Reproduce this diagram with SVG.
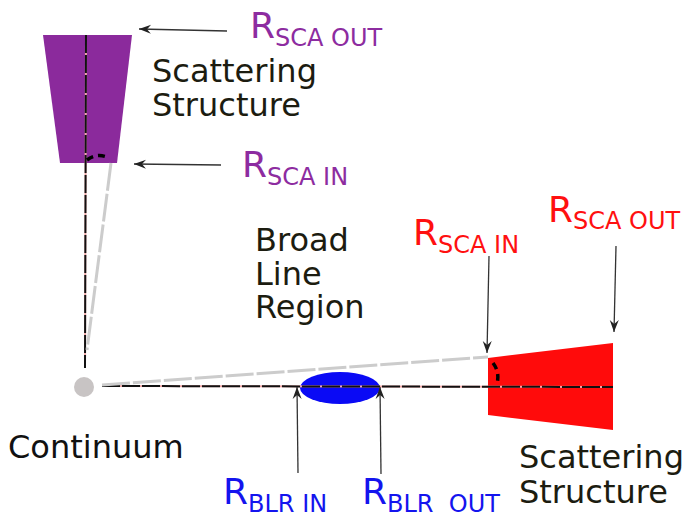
<svg xmlns="http://www.w3.org/2000/svg" width="686" height="512" viewBox="0 0 686 512">
  <defs>
    <marker id="arr" viewBox="-13 -5 14 10" refX="0" refY="0" markerWidth="14" markerHeight="10" markerUnits="userSpaceOnUse" orient="auto">
      <path d="M0,0 L-12,-4.5 L-8,0 L-12,4.5 Z" fill="#222"/>
    </marker>
  </defs>
  <style>
    .t { font-family: "DejaVu Sans", "Liberation Sans", sans-serif; font-size: 32px; fill: #1c1c10; }
    .r { font-family: "DejaVu Sans", "Liberation Sans", sans-serif; font-size: 36px; }
    .sub { font-size: 24px; }
    .purple { fill: #8d2ca0; }
    .red { fill: #ff1010; }
    .blue { fill: #1414ee; }
    .axisbg { stroke: #f0a8a8; stroke-width: 2; fill: none; }
    .axis { stroke: #111; stroke-width: 2; stroke-dasharray: 18 2; fill: none; }
    .ray { stroke: #cccccc; stroke-width: 3; stroke-dasharray: 28 3; fill: none; }
    .angle { stroke: #000; stroke-width: 3.5; stroke-dasharray: 7 5; fill: none; }
    .ptr { stroke: #333; stroke-width: 1.3; fill: none; marker-end: url(#arr); }
  </style>

  <g id="scatter-top">
    <polygon points="43,35 132,35 117,163 60,163" fill="#8b2a9c"/>
  </g>

  <g id="scatter-right">
    <polygon points="488,358 613,343 613,430 488,415" fill="#ff0b0b"/>
  </g>

  <g id="blr">
    <ellipse cx="340" cy="388" rx="40" ry="16" fill="#0a0af5"/>
  </g>

  <g id="continuum">
    <circle cx="84" cy="387" r="10" fill="#c8c4c4"/>
  </g>

  <g id="connectors">
    <line class="axisbg" x1="86" y1="35" x2="85" y2="368"/>
    <line class="axis" x1="86" y1="35" x2="85" y2="368"/>
    <line class="axisbg" x1="102" y1="386" x2="613" y2="387"/>
    <line class="axis" x1="102" y1="386" x2="613" y2="387"/>
    <line class="ray" x1="111" y1="163" x2="87" y2="350"/>
    <line class="ray" x1="102" y1="385" x2="488" y2="357"/>
    <path class="angle" d="M87,160 Q96,153 107,157"/>
    <path class="angle" d="M493,363 Q500,372 497,384"/>
    <line class="ptr" x1="227" y1="31" x2="139" y2="29"/>
    <line class="ptr" x1="221" y1="165" x2="134" y2="164"/>
    <line class="ptr" x1="489" y1="256" x2="487" y2="353"/>
    <line class="ptr" x1="616" y1="246" x2="614" y2="332"/>
    <line class="ptr" x1="298" y1="473" x2="297" y2="387"/>
    <line class="ptr" x1="381" y1="474" x2="380" y2="387"/>
  </g>

  <g id="labels">
    <text class="r purple" x="250" y="38">R<tspan class="sub" dy="8">SCA OUT</tspan></text>
    <text class="r purple" x="242" y="177">R<tspan class="sub" dy="8">SCA IN</tspan></text>
    <text class="t" x="152" y="82">Scattering</text>
    <text class="t" x="152" y="116">Structure</text>
    <text class="t" x="255" y="251">Broad</text>
    <text class="t" x="255" y="285">Line</text>
    <text class="t" x="255" y="318">Region</text>
    <text class="t" x="8" y="458" style="fill:#111">Continuum</text>
    <text class="r red" x="413" y="245">R<tspan class="sub" dy="8">SCA IN</tspan></text>
    <text class="r red" x="548" y="222">R<tspan class="sub" dy="7">SCA OUT</tspan></text>
    <text class="t" x="519" y="468">Scattering</text>
    <text class="t" x="519" y="503">Structure</text>
    <text class="r blue" x="223" y="504">R<tspan class="sub" dy="8">BLR IN</tspan></text>
    <text class="r blue" x="362" y="504" xml:space="preserve">R<tspan class="sub" dy="8">BLR  OUT</tspan></text>
  </g>
</svg>
